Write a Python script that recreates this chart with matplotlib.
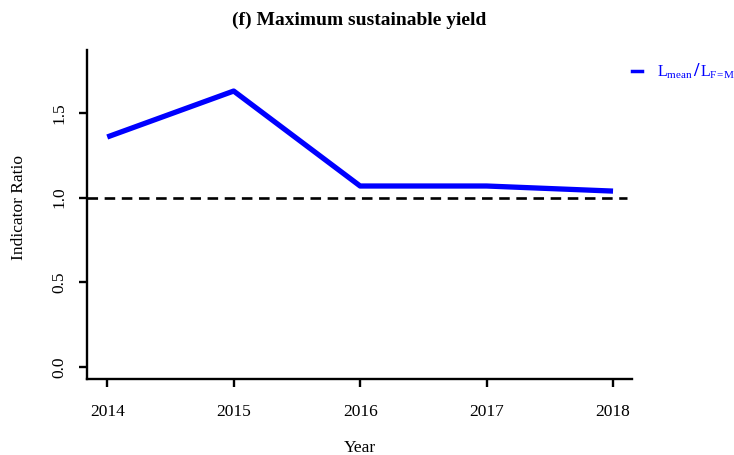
import matplotlib
matplotlib.use('Agg')
import matplotlib.pyplot as plt

plt.rcParams['font.family'] = 'Liberation Serif'
plt.rcParams['mathtext.fontset'] = 'custom'
plt.rcParams['mathtext.rm'] = 'Liberation Serif'
plt.rcParams['mathtext.bf'] = 'Liberation Serif:bold'

years = [2014, 2015, 2016, 2017, 2018]
ratio = [1.357, 1.628, 1.068, 1.068, 1.038]
yticks = [0.0, 0.5, 1.0, 1.5]
reference = 1.0

fig = plt.figure(figsize=(7.34, 4.55), dpi=100)
ax = fig.add_axes([87 / 734, 1 - 379 / 455, 545 / 734, 329 / 455])

ax.plot(years, ratio, color='#0000ff', lw=3.8, solid_capstyle='butt')
ax.plot([2013.84, 2018.11], [reference, reference], color='k', lw=1.9, ls=(0, (4, 2.5)))

ax.set_xlim(2013.84, 2018.15)
ax.set_ylim(-0.07, 1.87)
ax.set_xticks(years)
ax.set_yticks(yticks)
ax.set_yticklabels([f'{v:.1f}' for v in yticks], rotation=90, va='center')

for s in ['top', 'right']:
    ax.spines[s].set_visible(False)
for s in ['left', 'bottom']:
    ax.spines[s].set_linewidth(1.7)
ax.tick_params(width=1.7, length=6, labelsize=12.5, pad=12)
ax.tick_params(axis='y', pad=8)

fig.text(360 / 734, 1 - 448 / 455, 'Year', fontsize=12.5, ha='center', va='center')
fig.text(19 / 734, 1 - 208 / 455, 'Indicator Ratio', fontsize=12.5, rotation=90,
         ha='center', va='center')
ax.set_title('(f) Maximum sustainable yield', fontsize=14, fontweight='bold', pad=18)

# legend outside top right
fig.lines.append(plt.Line2D([632 / 734, 642 / 734], [1 - 71 / 455] * 2,
                            color='#0000ff', lw=2.5, transform=fig.transFigure))
fig.text(657 / 734, 1 - 72 / 455, r'$\mathrm{L_{mean}}$', color='#0000ff',
         fontsize=11.5, va='center', ha='left')
fig.text(696 / 734, 1 - 71 / 455, '/', color='#0000ff', fontweight='bold',
         fontsize=14, va='center', ha='center')
fig.text(700 / 734, 1 - 72 / 455, r'$\mathrm{L_{F\!=\!M}}$', color='#0000ff',
         fontsize=11.5, va='center', ha='left')

fig.savefig('out.png', dpi=100)
